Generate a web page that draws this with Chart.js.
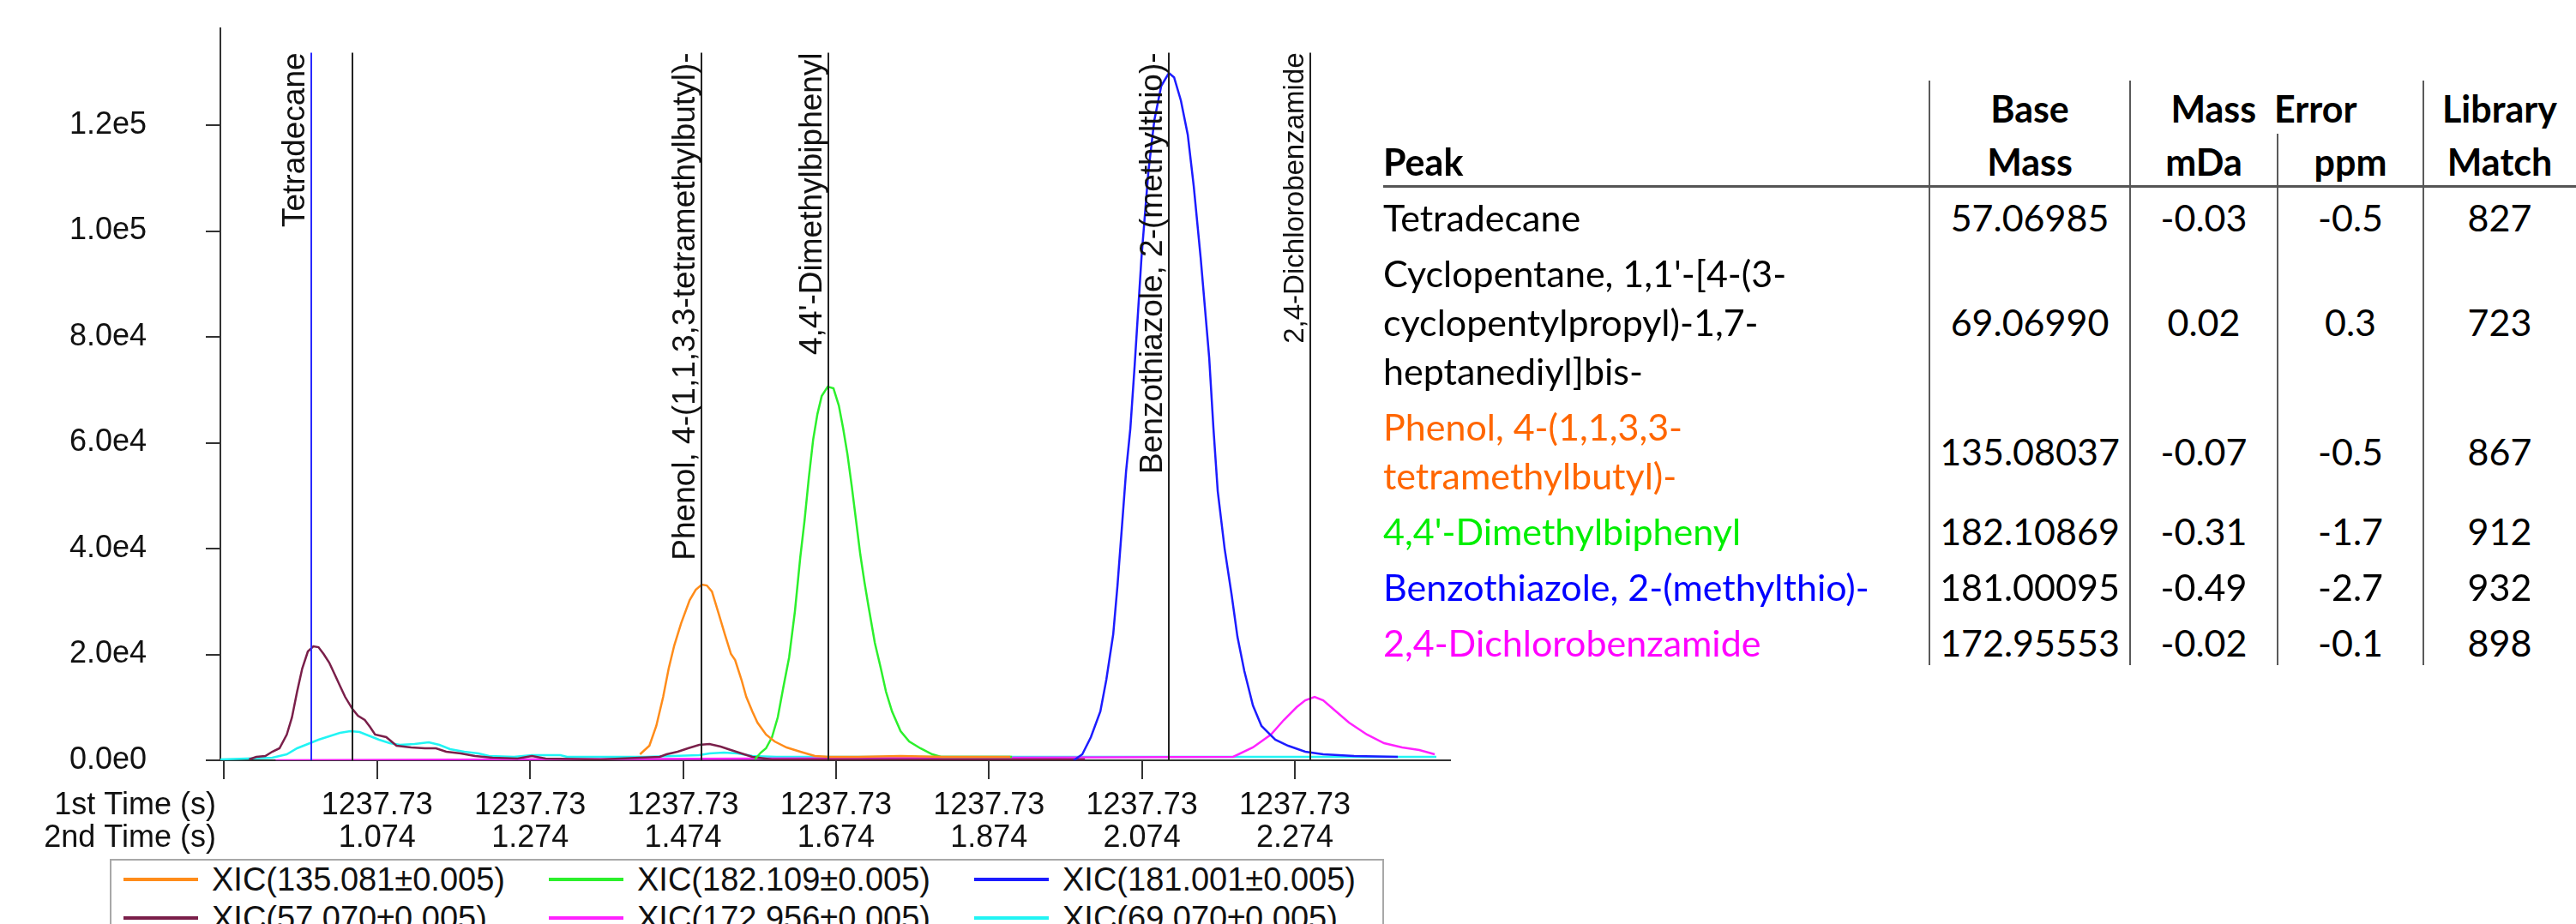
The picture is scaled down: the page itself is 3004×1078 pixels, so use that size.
<!DOCTYPE html>
<html>
<head>
<meta charset="utf-8">
<script src="https://cdn.jsdelivr.net/npm/chart.js@4.4.1/dist/chart.umd.min.js"></script>
<style>
  html, body { margin:0; padding:0; background:#fff; width:3004px; height:1078px; overflow:hidden; position:relative; }
  #chartWrap { position:absolute; left:0; top:0; width:1720px; height:1000px; }
  #legend { position:absolute; left:128px; top:1002px; width:1486px; height:150px; border:2px solid #a8a8a8; box-sizing:border-box; background:#fff;
            font-family:"Liberation Sans", Arial, sans-serif; font-size:38px; color:#111; }
  .li { position:absolute; height:44px; display:flex; align-items:center; white-space:nowrap; }
  .li .sw { width:87px; height:4px; margin-right:16px; }
  .cell { position:absolute; white-space:pre; font-family:Lato, "Open Sans", sans-serif; font-size:43px; line-height:57px; color:#000; }
  .hdr { font-weight:bold; }
  .vline { position:absolute; width:2px; background:#5a5a5a; }
  .hline { position:absolute; height:3px; background:#555; }
</style>
</head>
<body>
<div id="chartWrap"><canvas id="c"></canvas></div>
<div id="legend"></div>
<div id="table"></div>
<script>
// ---------------- data ----------------
const seriesLabels = ['XIC(135.081±0.005)', 'XIC(182.109±0.005)', 'XIC(181.001±0.005)',
                      'XIC(57.070±0.005)', 'XIC(172.956±0.005)', 'XIC(69.070±0.005)'];
const seriesColors = ['#ff8c1a', '#2cf02c', '#1c1cff', '#7a1f4a', '#ff22ff', '#22f4f4'];

// [2nd time (s), intensity]
const xic135 = [[1.4177,1130],[1.4300,2750],[1.4390,6480],[1.4480,11980],[1.4552,17320],[1.4625,21690],[1.4715,25900],
  [1.4827,30280],[1.4906,32220],[1.4985,33190],[1.5051,33030],[1.5118,31890],[1.5210,27520],[1.5287,23800],[1.5367,20080],
  [1.5421,18940],[1.5504,15220],[1.5567,11980],[1.5646,9230],[1.5713,7120],[1.5825,4860],[1.5937,3560],[1.6094,2430],
  [1.6273,1620],[1.6464,810],[1.6654,650],[1.7024,650],[1.7585,810],[1.8145,650],[1.9020,650]];
const xic182 = [[1.5679,160],[1.5754,1410],[1.5825,2270],[1.5903,4370],[1.5979,8140],[1.6049,13600],[1.6127,19430],
  [1.6203,28170],[1.6273,38370],[1.6329,45330],[1.6385,53430],[1.6441,60550],[1.6497,65410],[1.6553,68810],[1.6632,70590],
  [1.6707,70270],[1.6777,67030],[1.6834,62660],[1.6890,57800],[1.6946,51810],[1.7002,45330],[1.7058,38860],[1.7114,33510],
  [1.7170,28660],[1.7248,22180],[1.7327,17320],[1.7394,12950],[1.7473,9230],[1.7585,5500],[1.7697,3560],[1.7843,2270],
  [1.7999,1130],[1.8112,650],[1.9042,650]];
const xic181 = [[1.9849,0],[1.9961,1130],[2.0073,4370],[2.0197,9230],[2.0275,15220],[2.0365,23800],[2.0421,33030],
  [2.0477,43710],[2.0533,54560],[2.0589,62660],[2.0645,74470],[2.0735,95040],[2.0825,111230],[2.0903,120940],[2.0993,127410],
  [2.1093,129840],[2.1161,129040],[2.1250,124660],[2.1340,118190],[2.1418,108470],[2.1508,95040],[2.1620,76090],[2.1676,62660],
  [2.1732,50840],[2.1822,39990],[2.1912,31410],[2.1990,23310],[2.2080,16840],[2.2192,10360],[2.2304,6480],[2.2484,3890],
  [2.2652,2750],[2.2876,1620],[2.3111,1130],[2.3515,810],[2.4087,650]];
const xic57 = [[0.9065,160],[0.9160,650],[0.9278,810],[0.9368,1620],[0.9463,2270],[0.9558,4860],[0.9626,8100],[0.9693,12950],
  [0.9760,17320],[0.9834,20560],[0.9906,21530],[0.9973,21370],[1.0040,20080],[1.0113,18460],[1.0186,16190],[1.0253,14090],
  [1.0321,11980],[1.0416,9710],[1.0489,8420],[1.0578,7610],[1.0646,6310],[1.0713,4860],[1.0859,4370],[1.0993,2750],
  [1.1184,2430],[1.1363,2270],[1.1509,2270],[1.1643,1620],[1.1834,1300],[1.2019,810],[1.2249,490],[1.2574,320],[1.2764,810],
  [1.2944,320],[1.3661,160],[1.4435,650],[1.4524,1130],[1.4670,1620],[1.4805,2270],[1.4951,2910],[1.5085,3080],[1.5231,2590],
  [1.5365,1940],[1.5505,1300],[1.5646,650],[1.5903,160],[1.7024,160],[1.8145,160],[1.9995,160]];
const xic172 = [[0.9413,0],[2.1934,650],[2.2192,2430],[2.2427,4860],[2.2596,7610],[2.2764,10040],[2.2876,11330],[2.2999,11980],
  [2.3111,11330],[2.3279,9230],[2.3448,7120],[2.3683,4860],[2.3907,3240],[2.4143,2430],[2.4367,1940],[2.4569,1130]];
const xic69 = [[0.8690,160],[0.9368,490],[0.9558,1130],[0.9693,2270],[0.9834,3080],[0.9973,3890],[1.0113,4530],[1.0253,5180],
  [1.0388,5500],[1.0511,5340],[1.0623,4700],[1.0765,3890],[1.0904,3240],[1.1038,2910],[1.1229,3080],[1.1415,3400],[1.1554,2910],
  [1.1694,2100],[1.1879,1620],[1.2066,1300],[1.2204,810],[1.2529,650],[1.2764,970],[1.3134,970],[1.3224,650],[1.4250,650],
  [1.4950,970],[1.5085,1300],[1.5275,1460],[1.5455,1300],[1.5646,810],[1.5959,650],[1.7024,650],[1.9266,650],[2.1508,650],[2.4591,650]];

const seriesData = [xic135, xic182, xic181, xic57, xic172, xic69];

// peak markers
const markerTimes  = [0.9883, 1.0416, 1.4984, 1.6643, 2.1093, 2.2943];
const markerLabels = ['Tetradecane', '', 'Phenol, 4-(1,1,3,3-tetramethylbutyl)-', "4,4'-Dimethylbiphenyl",
                      'Benzothiazole, 2-(methylthio)-', '2,4-Dichlorobenzamide'];
const markerColors = ['#2a2aff', '#222', '#222', '#222', '#222', '#222'];
const markerFontPx = [37, 37, 37, 37, 37, 33];
const markerTop = 133700;

// axes
const xTickValues = [0.874, 1.074, 1.274, 1.474, 1.674, 1.874, 2.074, 2.274];
const firstTimeLabels  = ['', '1237.73', '1237.73', '1237.73', '1237.73', '1237.73', '1237.73', '1237.73'];
const secondTimeLabels = ['', '1.074', '1.274', '1.474', '1.674', '1.874', '2.074', '2.274'];
const yTickValues = [0, 20000, 40000, 60000, 80000, 100000, 120000];
const xMin = 0.869, xMax = 2.477, yMax = 138300;

// table
const peakNames = [['Tetradecane'],
  ["Cyclopentane, 1,1'-[4-(3-", 'cyclopentylpropyl)-1,7-', 'heptanediyl]bis-'],
  ['Phenol, 4-(1,1,3,3-', 'tetramethylbutyl)-'],
  ["4,4'-Dimethylbiphenyl"],
  ['Benzothiazole, 2-(methylthio)-'],
  ['2,4-Dichlorobenzamide']];
const peakColors = ['#000000', '#000000', '#ff6600', '#00ee00', '#0000ff', '#ff00ff'];
const baseMass = ['57.06985', '69.06990', '135.08037', '182.10869', '181.00095', '172.95553'];
const errMDa   = ['-0.03', '0.02', '-0.07', '-0.31', '-0.49', '-0.02'];
const errPpm   = ['-0.5', '0.3', '-0.5', '-1.7', '-2.7', '-0.1'];
const libMatch = ['827', '723', '867', '912', '932', '898'];

// ---------------- chart ----------------
const FONT = '"Liberation Sans", Arial, sans-serif';
const TICK_LEN_X = 22, TICK_PAD_X = 12, LINE_H = 1.06, TICK_FONT = 36;

const markerPlugin = {
  id: 'markers',
  afterDatasetsDraw(chart) {
    const { ctx, scales: { x, y } } = chart;
    const yb = y.getPixelForValue(0), yt = y.getPixelForValue(markerTop);
    ctx.save();
    markerTimes.forEach((t, i) => {
      const px = Math.round(x.getPixelForValue(t));
      ctx.strokeStyle = markerColors[i];
      ctx.lineWidth = 2;
      ctx.beginPath(); ctx.moveTo(px, yt); ctx.lineTo(px, yb); ctx.stroke();
      if (markerLabels[i]) {
        ctx.save();
        ctx.translate(px - 8, yt);
        ctx.rotate(-Math.PI / 2);
        ctx.textAlign = 'right';
        ctx.textBaseline = 'alphabetic';
        ctx.fillStyle = '#111';
        ctx.font = markerFontPx[i] + 'px ' + FONT;
        ctx.fillText(markerLabels[i], 0, 0);
        ctx.restore();
      }
    });
    ctx.restore();
  },
  afterDraw(chart) {
    const { ctx, chartArea } = chart;
    ctx.save();
    ctx.font = TICK_FONT + 'px ' + FONT;
    ctx.fillStyle = '#111';
    ctx.textAlign = 'right';
    ctx.textBaseline = 'middle';
    const lh = TICK_FONT * LINE_H;
    const y1 = chartArea.bottom + TICK_LEN_X + TICK_PAD_X + lh / 2;
    ctx.fillText('1st Time (s)', chartArea.left - 5, y1);
    ctx.fillText('2nd Time (s)', chartArea.left - 5, y1 + lh);
    ctx.restore();
  }
};

new Chart(document.getElementById('c'), {
  type: 'line',
  data: {
    datasets: seriesData.map((d, i) => ({
      label: seriesLabels[i],
      data: d.map(p => ({ x: p[0], y: p[1] })),
      borderColor: seriesColors[i],
      backgroundColor: seriesColors[i],
      borderWidth: 2.5,
      pointRadius: 0,
      tension: 0,
      fill: false
    }))
  },
  options: {
    responsive: true,
    maintainAspectRatio: false,
    animation: false,
    layout: { padding: { left: 0, top: 33, right: 29, bottom: 0 } },
    plugins: { legend: { display: false }, tooltip: { enabled: false } },
    scales: {
      x: {
        type: 'linear', min: xMin, max: xMax,
        afterBuildTicks: s => { s.ticks = xTickValues.map(v => ({ value: v })); },
        afterFit: s => { s.height = 113; s.paddingLeft = 0; s.paddingRight = 0; },
        grid: { drawOnChartArea: false, drawTicks: true, tickLength: TICK_LEN_X, color: '#333', lineWidth: 2 },
        border: { display: true, color: '#333', width: 2 },
        ticks: {
          autoSkip: false, maxRotation: 0, minRotation: 0, padding: TICK_PAD_X, color: '#111',
          font: { family: FONT, size: TICK_FONT, lineHeight: LINE_H },
          callback: (v) => {
            const i = xTickValues.findIndex(t => Math.abs(t - v) < 1e-6);
            return i <= 0 ? '' : [firstTimeLabels[i], secondTimeLabels[i]];
          }
        }
      },
      y: {
        type: 'linear', min: 0, max: yMax,
        afterBuildTicks: s => { s.ticks = yTickValues.map(v => ({ value: v })); },
        afterFit: s => { s.width = 257; s.paddingTop = 0; s.paddingBottom = 0; },
        grid: { drawOnChartArea: false, drawTicks: true, tickLength: 17, color: '#333', lineWidth: 2 },
        border: { display: true, color: '#333', width: 2 },
        ticks: {
          autoSkip: false, padding: 69, color: '#111',
          font: { family: FONT, size: TICK_FONT },
          callback: v => Number(v).toExponential(1).replace('+', '')
        }
      }
    }
  },
  plugins: [markerPlugin]
});

// ---------------- legend (HTML) ----------------
const legendBox = document.getElementById('legend');
const legCols = [14, 510, 1006];
const legRows = [0, 45];
seriesLabels.forEach((lab, i) => {
  const el = document.createElement('div');
  el.className = 'li';
  el.style.left = legCols[i % 3] + 'px';
  el.style.top = legRows[Math.floor(i / 3)] + 'px';
  const sw = document.createElement('span');
  sw.className = 'sw';
  sw.style.background = seriesColors[i];
  el.appendChild(sw);
  el.appendChild(document.createTextNode(lab));
  legendBox.appendChild(el);
});

// ---------------- table (HTML) ----------------
const tableBox = document.getElementById('table');
const colEdges = [1613, 2250, 2484, 2656, 2826, 3004];
function addCell(text, left, topPx, width, align, cls, color) {
  const d = document.createElement('div');
  d.className = 'cell' + (cls ? ' ' + cls : '');
  d.style.left = left + 'px';
  d.style.top = topPx + 'px';
  if (width) { d.style.width = width + 'px'; }
  d.style.textAlign = align;
  if (color) d.style.color = color;
  d.textContent = text;
  tableBox.appendChild(d);
  return d;
}
const colW = i => colEdges[i + 1] - colEdges[i];
const hdrTop1 = 98, hdrTop2 = 160;
addCell('Base', colEdges[1], hdrTop1, colW(1), 'center', 'hdr');
addCell('Mass  Error', colEdges[2], hdrTop1, colEdges[4] - colEdges[2] - 30, 'center', 'hdr');
addCell('Library', colEdges[4], hdrTop1, colW(4), 'center', 'hdr');
addCell('Peak', colEdges[0], hdrTop2, 0, 'left', 'hdr');
addCell('Mass', colEdges[1], hdrTop2, colW(1), 'center', 'hdr');
addCell('mDa', colEdges[2], hdrTop2, colW(2), 'center', 'hdr');
addCell('ppm', colEdges[3], hdrTop2, colW(3), 'center', 'hdr');
addCell('Match', colEdges[4], hdrTop2, colW(4), 'center', 'hdr');
const rowLineH = 57, rowPad = 4;
let rowTop = 221;
peakNames.forEach((lines, r) => {
  const h = lines.length * rowLineH + 2 * rowPad;
  lines.forEach((ln, k) => addCell(ln, colEdges[0], rowTop + rowPad + k * rowLineH, 0, 'left', '', peakColors[r]));
  const mid = rowTop + h / 2 - rowLineH / 2;
  addCell(baseMass[r], colEdges[1], mid, colW(1), 'center');
  addCell(errMDa[r], colEdges[2], mid, colW(2), 'center');
  addCell(errPpm[r], colEdges[3], mid, colW(3), 'center');
  addCell(libMatch[r], colEdges[4], mid, colW(4), 'center');
  rowTop += h;
});
function vline(x, y0, y1) {
  const d = document.createElement('div'); d.className = 'vline';
  d.style.left = (x - 1) + 'px'; d.style.top = y0 + 'px'; d.style.height = (y1 - y0) + 'px';
  tableBox.appendChild(d);
}
vline(colEdges[1], 94, 776); vline(colEdges[2], 94, 776); vline(colEdges[3], 156, 776); vline(colEdges[4], 94, 776);
const hl = document.createElement('div'); hl.className = 'hline';
hl.style.left = colEdges[0] + 'px'; hl.style.top = '216px'; hl.style.width = (3004 - colEdges[0]) + 'px';
tableBox.appendChild(hl);
</script>
</body>
</html>
